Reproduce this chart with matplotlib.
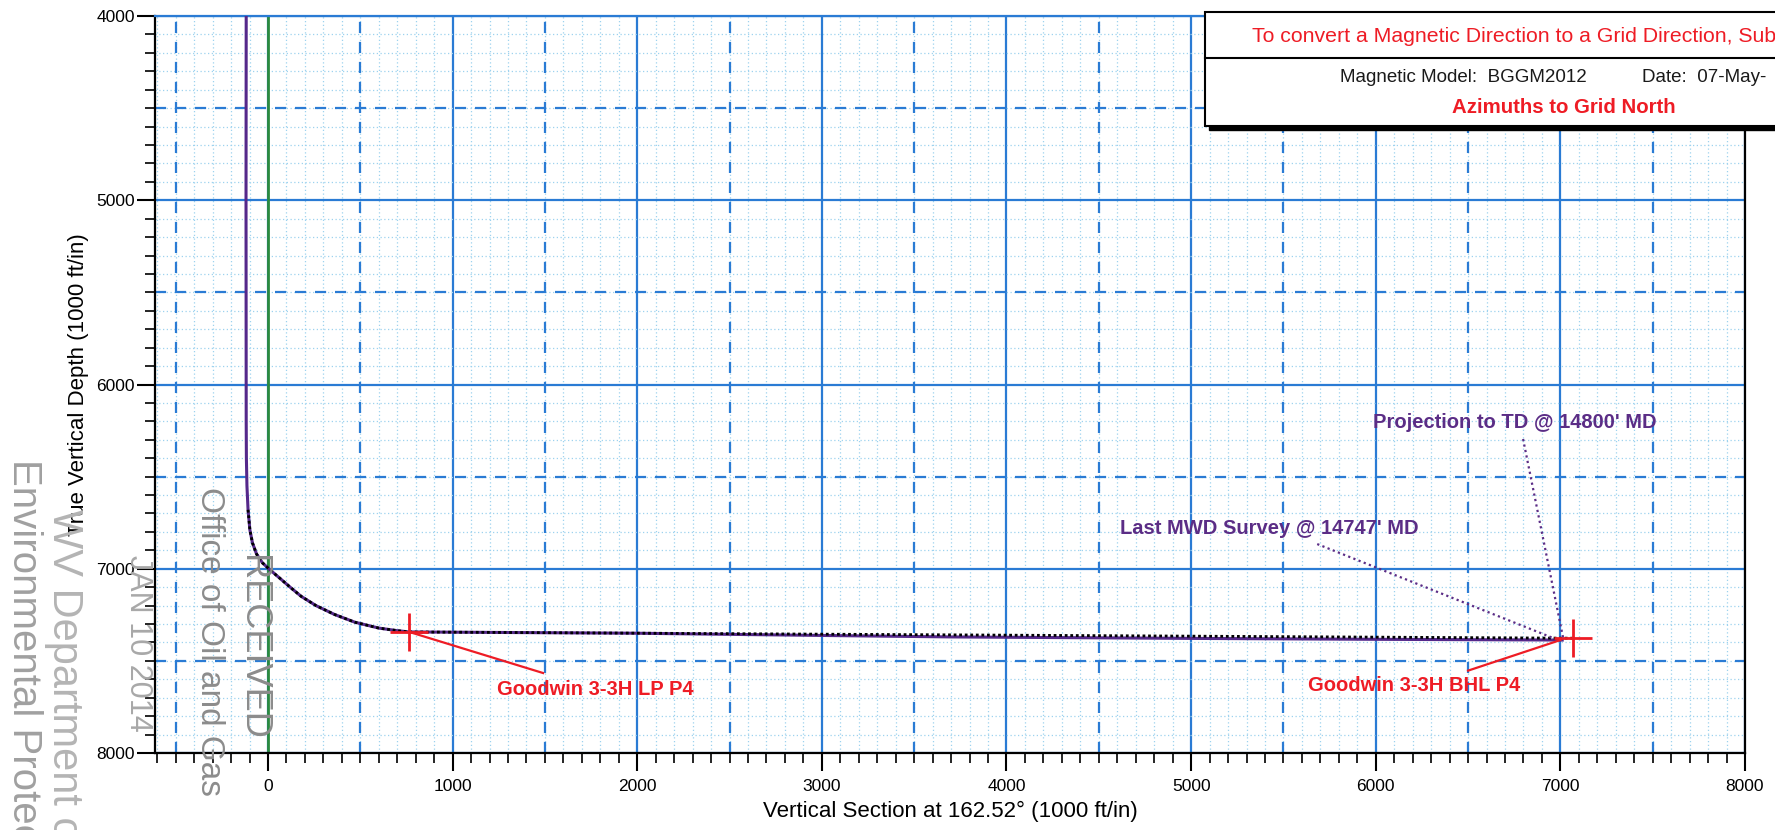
import numpy as np
import matplotlib
matplotlib.use("Agg")
import matplotlib.pyplot as plt
from matplotlib.patches import Rectangle
from matplotlib.lines import Line2D
from matplotlib.ticker import MultipleLocator

plt.rcParams['font.family'] = ['Liberation Sans', 'DejaVu Sans']

# actual well path: vertical section (ft) vs true vertical depth (ft)
actual_vs = [-118, -119, -118, -117, -114, -108, -98, -84, -62, -30, 10, 60, 120, 180, 260, 360, 470,
             600, 700, 765, 2000, 3000, 3700, 5000, 6000, 7010]
actual_tvd = [4000, 5000, 6200, 6400, 6550, 6680, 6790, 6860, 6920, 6968, 7005, 7048, 7100, 7150, 7200,
              7248, 7290, 7322, 7336, 7343, 7350, 7362, 7370, 7378, 7383, 7387]

# planned path (black dotted)
plan_vs = [-108, -98, -84, -62, -30, 10, 60, 120, 180, 260, 360, 470, 600, 700, 765, 7070]
plan_tvd = [6680, 6790, 6860, 6920, 6968, 7005, 7048, 7100, 7150, 7200, 7248, 7290, 7322, 7336, 7343, 7377]

# targets
lp_target = (765, 7343)
bhl_target = (7070, 7377)

# annotation leaders (x list, y list)
lp_leader = ([765, 1490], [7343, 7566])
bhl_leader = ([7000, 6500], [7387, 7553])
mwd_leader = ([5683, 6961], [6866, 7376])
proj_leader = ([6798, 7015], [6296, 7376])

blue = '#2a7bd4'
light = '#9dd2ef'
red = '#ee1c25'
purple = '#55288a'
label_purple = '#5b2d86'
green = '#2b8a3e'

W, H = 1775, 830
fig = plt.figure(figsize=(W / 100, H / 100), dpi=100)
ax = fig.add_axes([155 / W, 1 - 753 / H, 1590 / W, 737 / H])

ax.set_xlim(-612, 8000)
ax.set_ylim(8000, 4000)

ax.xaxis.set_major_locator(MultipleLocator(1000))
ax.xaxis.set_minor_locator(MultipleLocator(100))
ax.yaxis.set_major_locator(MultipleLocator(1000))
ax.yaxis.set_minor_locator(MultipleLocator(100))

ax.set_axisbelow(True)
ax.grid(which='minor', color=light, lw=0.9, ls=(0, (1, 2)))
ax.grid(which='major', color=blue, lw=1.6, ls='-')
for v in np.arange(-500, 8000, 1000):
    ax.axvline(v, color=blue, lw=1.6, ls=(0, (5, 4)), zorder=1)
for h in np.arange(4500, 8000, 1000):
    ax.axhline(h, color=blue, lw=1.6, ls=(0, (5, 4)), zorder=1)

ax.axvline(0, color=green, lw=2, zorder=2)

ax.tick_params(which='major', direction='out', length=13, width=1.5, labelsize=12.5)
ax.tick_params(which='minor', direction='out', length=7, width=1.2)
ax.tick_params(axis='x', which='major', pad=5.5)
ax.tick_params(axis='y', which='major', pad=1.5)
for s in ['left', 'bottom', 'right']:
    ax.spines[s].set_linewidth(1.6)
ax.spines['top'].set_color(blue)
ax.spines['top'].set_linewidth(1.6)

ax.set_xlabel("Vertical Section at 162.52° (1000 ft/in)", fontsize=16)
ax.xaxis.set_label_coords(0.5, -0.065)
ax.set_ylabel("True Vertical Depth (1000 ft/in)", fontsize=16)
ax.yaxis.set_label_coords(-0.0415, 0.5)

# well paths
ax.plot(actual_vs, actual_tvd, color=purple, lw=2.2, zorder=4, solid_joinstyle='round')
ax.plot(plan_vs, plan_tvd, color='black', lw=2, ls=(0, (1, 1)), zorder=5)

# targets
for t in [lp_target, bhl_target]:
    ax.plot(t[0], t[1], marker='+', ms=27, mew=2, color=red, zorder=6)

# leaders
ax.plot(*lp_leader, color=red, lw=1.6, zorder=6)
ax.plot(*bhl_leader, color=red, lw=1.6, zorder=6)
ax.plot(*mwd_leader, color=label_purple, lw=1.6, ls=(0, (1, 1.5)), zorder=6)
ax.plot(*proj_leader, color=label_purple, lw=1.6, ls=(0, (1, 1.5)), zorder=6)

ax.text(1240, 7658, "Goodwin 3-3H LP P4", color=red, fontsize=14.5, fontweight='bold',
        ha='left', va='center', zorder=7)
ax.text(6782, 7631, "Goodwin 3-3H BHL P4", color=red, fontsize=14.5, fontweight='bold',
        ha='right', va='center', zorder=7)
ax.text(4615, 6779, "Last MWD Survey @ 14747' MD", color=label_purple, fontsize=14.5,
        fontweight='bold', ha='left', va='center', zorder=7)
ax.text(5986, 6204, "Projection to TD @ 14800' MD", color=label_purple, fontsize=14.5,
        fontweight='bold', ha='left', va='center', zorder=7)

# info box top right
bx, by_top, by_bot = 1205, 12, 126
fig.add_artist(Rectangle(((bx + 4) / W, 1 - (by_bot + 4) / H), (1800 - bx) / W, (by_bot - by_top) / H,
                         transform=fig.transFigure, fc='black', ec='black', zorder=4))
fig.add_artist(Rectangle((bx / W, 1 - by_bot / H), (1800 - bx) / W, (by_bot - by_top) / H,
                         transform=fig.transFigure, fc='white', ec='black', lw=1.5, zorder=5))
fig.add_artist(Line2D([bx / W, 1.0], [1 - 58 / H] * 2, transform=fig.transFigure,
                      color='black', lw=1.5, zorder=6))
fig.text(1776 / W, 1 - 42 / H, "To convert a Magnetic Direction to a Grid Direction, Sub",
         color=red, fontsize=15.3, ha='right', va='baseline', zorder=7)
fig.text(1587 / W, 1 - 82 / H, "Magnetic Model:  BGGM2012",
         color='#1a1a1a', fontsize=13.5, ha='right', va='baseline', zorder=7)
fig.text(1642 / W, 1 - 82 / H, "Date:  07-May-",
         color='#1a1a1a', fontsize=13.5, ha='left', va='baseline', zorder=7)
fig.text(1676 / W, 1 - 113 / H, "Azimuths to Grid North", color=red, fontsize=14.7,
         fontweight='bold', ha='right', va='baseline', zorder=7)

# received stamp
stamp = '#8c8c8c'
fig.text(24 / W, 1 - 459 / H, "Environmental Protection", color='#a0a0a0', fontsize=29,
         rotation=-90, ha='center', va='top', zorder=8)
fig.text(64 / W, 1 - 509 / H, "WV Department of", color='#b4b4b4', fontsize=30,
         rotation=-90, ha='center', va='top', zorder=8)
fig.text(138 / W, 1 - 555 / H, "JAN 10 2014", color='#a8a8a8', fontsize=22,
         rotation=-90, ha='center', va='top', zorder=8)
fig.text(209 / W, 1 - 487 / H, "Office of Oil and Gas", color=stamp, fontsize=24,
         rotation=-90, ha='center', va='top', zorder=8)
fig.text(252 / W, 1 - 555 / H, "RECEIVED", color=stamp, fontsize=26,
         rotation=-90, ha='center', va='top', zorder=8)

fig.savefig("out.png", dpi=100)
